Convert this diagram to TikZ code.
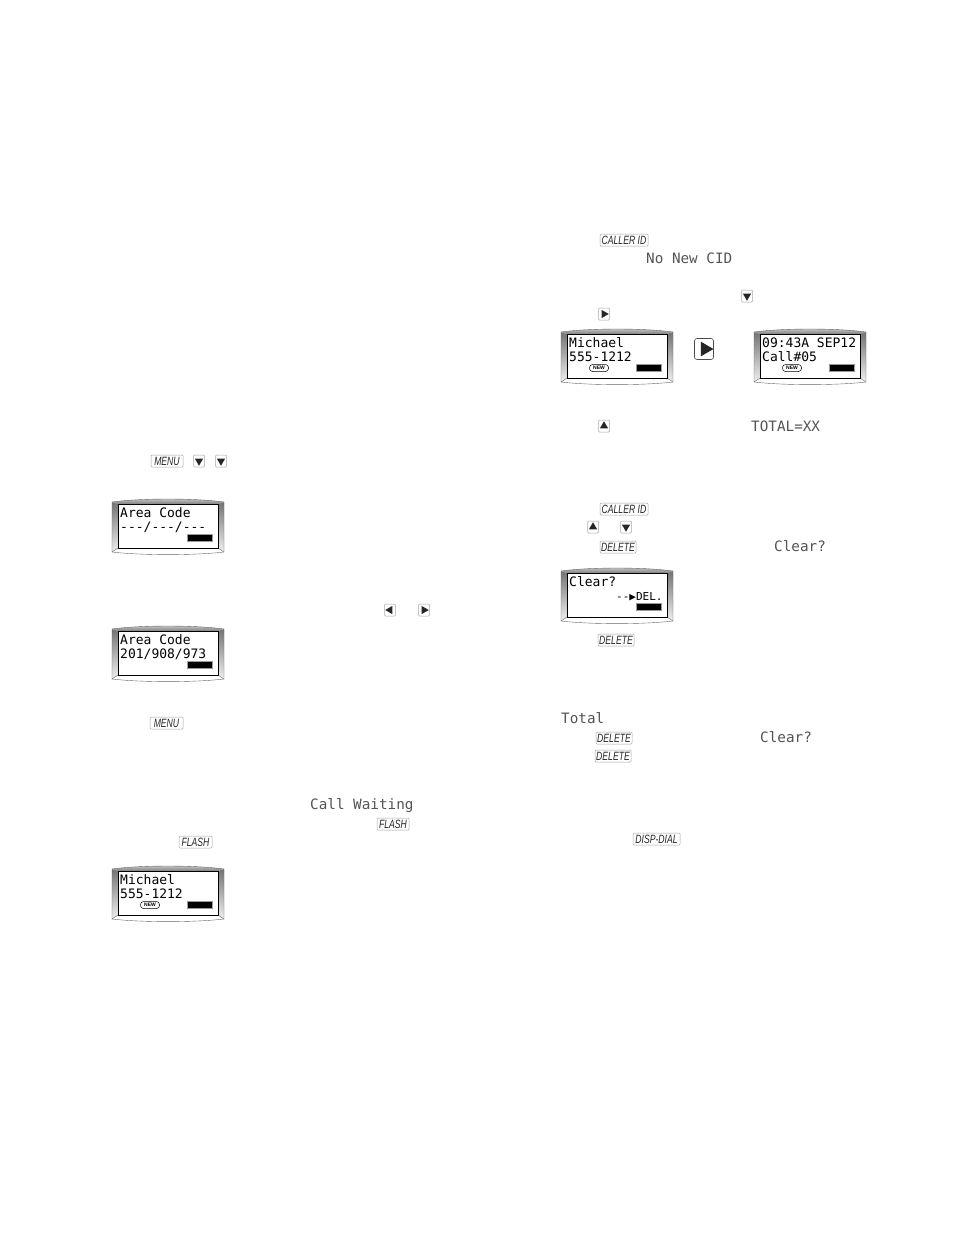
\documentclass[tikz,border=0pt]{standalone}
\usepackage{fontspec}
\usetikzlibrary{shapes.geometric}
\setmainfont{Liberation Sans}
\newfontfamily\lcdf{DejaVu Sans Mono}
\newfontfamily\keyf[FakeStretch=0.72]{Liberation Sans}
\definecolor{keyline}{gray}{0.65}
\definecolor{promptc}{gray}{0.33}
\tikzset{
  keybox/.style={draw=keyline,line width=.5pt,rounded corners=1pt,inner sep=0pt,minimum height=12pt,
    font=\keyf\itshape\fontsize{12}{12}\selectfont,text=black!85},
  btnbox/.style={draw=keyline,line width=.5pt,rounded corners=1pt,inner sep=0pt,minimum width=11pt,minimum height=12pt},
  bigbtn/.style={draw=black!70,line width=.6pt,rounded corners=2.5pt,inner sep=0pt,minimum width=19pt,minimum height=21pt},
  tri/.style={regular polygon,regular polygon sides=3,fill=black!85,inner sep=0pt,minimum size=9.5pt},
  bigtri/.style={regular polygon,regular polygon sides=3,fill=black!85,inner sep=0pt,minimum size=17pt},
  prompt/.style={anchor=base west,yshift=-5pt,inner sep=0pt,text=promptc,font=\lcdf\fontsize{14.3}{14.3}\selectfont},
  lcdtext/.style={anchor=base west,inner sep=0pt,font=\lcdf\fontsize{13}{13}\selectfont},
  newbadge/.style={draw=black,line width=.5pt,rounded corners=3pt,inner sep=0pt,minimum width=19pt,minimum height=7pt,
    font=\bfseries\fontsize{5}{5}\selectfont},
  battery/.style={draw=black!40,fill=black,line width=.8pt,inner sep=0pt,minimum width=25pt,minimum height=7.5pt},
  screen/.style={draw=black,line width=.8pt,fill=white,inner sep=0pt,minimum width=100pt,minimum height=44pt},
  bevel/.style={draw=black!60,line width=.4pt},
}
% #1 id, #2 x, #3 y, #4 first line, #5 second line, #6 extra inside the panel
\newcommand{\lcdpanel}[6]{%
  \begin{scope}[shift={(#2,#3)}]
    \shade[top color=black!55,bottom color=black!6] (0,3) -- (6,5) -- (6,49) -- (0,53) -- cycle;
    \shade[top color=black!55,bottom color=black!6] (112,3) -- (106,5) -- (106,49) -- (112,53) -- cycle;
    \shade[top color=black!20,bottom color=black!50] (0,3) .. controls (30,-1) and (82,-1) .. (112,3) -- (106,5) -- (6,5) -- cycle;
    \draw[bevel] (0,3) .. controls (30,-1) and (82,-1) .. (112,3) -- (112,53) .. controls (82,56.5) and (30,56.5) .. (0,53) -- cycle;
    \draw[bevel] (0,53) -- (6,49) (112,53) -- (106,49);
    \node[screen,anchor=north west] (#1scr) at (6,5) {};
    \node[lcdtext] (#1a) at (8,18.5) {#4};
    \node[lcdtext] (#1b) at (8,32.5) {#5};
    \node[battery] (#1bat) at (88,39) {};
    #6
  \end{scope}}
\newcommand{\newmark}[1]{\node[newbadge] (#1new) at (38,39) {NEW};}
\newcommand{\keycap}[4]{\node[keybox,minimum width=#3pt] (#1) at #2 {#4};}
\newcommand{\arrowkey}[3]{\node[btnbox] (#1) at #2 {}; \node[tri,regular polygon rotate=#3] (#1t) at (#1) {};}
\begin{document}
\begin{tikzpicture}[x=1pt,y=-1pt]
\useasboundingbox (0,0) rectangle (954,1235);
\fill[white] (0,0) rectangle (954,1235);

% left column
\keycap{kmenua}{(167,461)}{32}{MENU}
\arrowkey{kda}{(199,461)}{180}
\arrowkey{kdb}{(221,461)}{180}
\lcdpanel{pa}{112}{499}{Area Code}{---/---/---}{}
\arrowkey{kl}{(390,610)}{90}
\arrowkey{kr}{(424,610)}{-90}
\lcdpanel{pb}{112}{626}{Area Code}{201/908/973}{}
\keycap{kmenub}{(166.5,723)}{33}{MENU}
\node[prompt] (pcw) at (310,804) {Call Waiting};
\keycap{kfla}{(393,824)}{32}{FLASH}
\keycap{kflb}{(195.5,842)}{33}{FLASH}
\lcdpanel{pc}{112}{866}{Michael}{555-1212}{\newmark{pc}}

% right column
\keycap{kcid}{(624,240)}{48}{CALLER ID}
\node[prompt] (pnew) at (646,258) {No New CID};
\arrowkey{kdc}{(747,296)}{180}
\arrowkey{krb}{(604,314)}{-90}
\lcdpanel{pd}{561}{329}{Michael}{555-1212}{\newmark{pd}}
\node[bigbtn] (kbig) at (704,349) {};
\node[bigtri,regular polygon rotate=-90] (kbigt) at (705,349) {};
\lcdpanel{pe}{754}{329}{09:43A SEP12}{Call\#05}{\newmark{pe}}
\arrowkey{kua}{(604,426)}{0}
\node[prompt] (ptot) at (751,426) {TOTAL=XX};
\keycap{kcidb}{(624,509)}{48}{CALLER ID}
\arrowkey{kub}{(593,527)}{0}
\arrowkey{kdd}{(626,527)}{180}
\keycap{kdela}{(618,547)}{36}{DELETE}
\node[prompt] (pcla) at (774,546) {Clear?};
\lcdpanel{pf}{561}{568}{Clear?}{\hspace*{47pt}\fontsize{11}{11}\selectfont--▶DEL.}{}
\keycap{kdelb}{(616,640)}{36}{DELETE}
\node[prompt] (ptotal) at (561,718) {Total};
\keycap{kdelc}{(614,738)}{36}{DELETE}
\node[prompt] (pclb) at (760,737) {Clear?};
\keycap{kdeld}{(613,756)}{36}{DELETE}
\keycap{kdisp}{(656.5,839)}{47}{DISP-DIAL}
\end{tikzpicture}
\end{document}
